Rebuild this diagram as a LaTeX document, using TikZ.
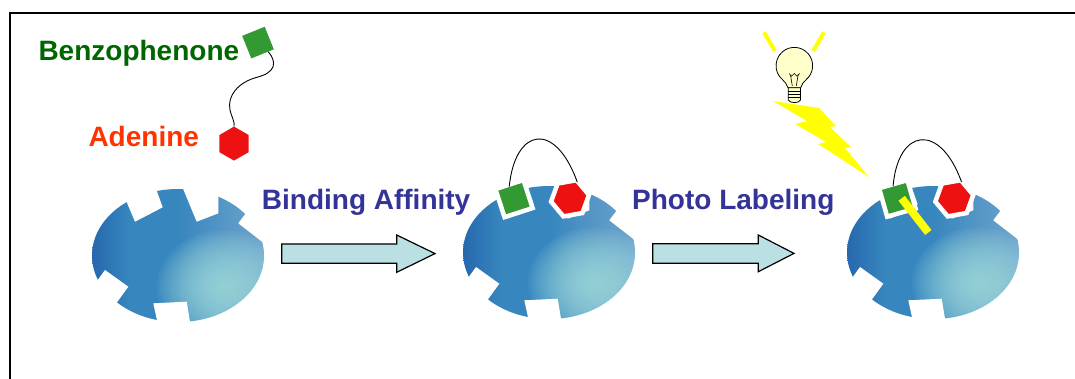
\documentclass[tikz,border=0pt]{standalone}
\usepackage{fontspec}
\setmainfont[Ligatures=CommonOff]{Liberation Sans}
\usetikzlibrary{shapes.geometric,calc}

\definecolor{benzgreen}{HTML}{006600}
\definecolor{adenred}{HTML}{FF3300}
\definecolor{stepblue}{HTML}{333399}
\definecolor{squaregreen}{HTML}{339933}
\definecolor{hexred}{HTML}{EE1111}
\definecolor{arrowfill}{HTML}{BAE0E3}
\definecolor{bulbfill}{HTML}{FFFFCC}
\definecolor{flash}{HTML}{FFFF00}
\definecolor{protnavy}{HTML}{0A338E}
\definecolor{protdeep}{HTML}{1F5BA6}
\definecolor{protmid}{HTML}{3786BE}
\definecolor{protgrey}{HTML}{6FA5CD}
\definecolor{protlight}{HTML}{8CBAD6}
\definecolor{prothl}{HTML}{A8E2E0}

% left-to-right body colour of the protein
\pgfdeclarehorizontalshading{proteinshade}{100bp}{%
  color(0bp)=(protnavy); color(7bp)=(protnavy); color(20bp)=(protdeep);
  color(36bp)=(protmid); color(50bp)=(protmid); color(75bp)=(protgrey);
  color(100bp)=(protlight)}

% protein body: shaded ellipse, then five binding pockets cut out in white
\newcommand\protein[1]{%
  \begin{scope}[shift={#1}]
    \begin{scope}
      \clip (0,0) ellipse [x radius=86, y radius=66.5];
      \shade[shading=proteinshade] (-86,-67) rectangle (86,67);
      \foreach \r in {66,63,...,3}
        \fill[prothl, fill opacity=0.075] (45,31) ellipse [x radius=\r, y radius=0.85*\r];
    \end{scope}
    \fill[white] (-43,-33.8) -- (-15.3,-48.2) -- (-28.9,-85.8) -- (-58.6,-70.6) -- cycle;
    \fill[white] (18.7,-33.8) -- (40.3,-42.2) -- (40.3,-78) -- (-2.7,-85.5) -- cycle;
    \fill[white] (60.3,-32.2) -- (87,-11.5) -- (96,-23.5) -- (69.3,-44.2) -- cycle;
    \fill[white] (-73,14.5) -- (-49.7,31.2) -- (-64,51) -- (-87.3,34.3) -- cycle;
    \fill[white] (-24.7,47.8) -- (8.7,46.2) -- (12.6,70) -- (-19.4,72) -- cycle;
  \end{scope}}

\tikzset{
  sqgroup/.style={rectangle, fill=squaregreen, draw=white, line width=4.5,
    minimum size=29.5, inner sep=0, outer sep=0},
  hexgroup/.style={regular polygon, regular polygon sides=6, shape border rotate=30,
    fill=hexred, draw=white, line width=4.5, minimum size=38.5, inner sep=0, outer sep=0},
  tether/.style={black, line width=0.9, shorten <=-2pt, shorten >=-2pt},
  steptext/.style={anchor=base west, inner sep=0, text=stepblue,
    font=\bfseries\fontsize{28}{30}\selectfont},
  blockarrow/.style={fill=arrowfill, draw=black, line width=1.2, line join=miter},
  ray/.style={flash, line width=4},
}

\begin{document}
\begin{tikzpicture}[x=1pt, y=-1pt]
\useasboundingbox (0,0) rectangle (1075,379);
\clip (0,0) rectangle (1075,379);

% outer frame
\draw[line width=2.3] (10.3,13.2) rectangle (1100,400);

% three proteins
\protein{(178,255.5)}
\protein{(549,252.5)}
\protein{(933,252.5)}

% labelled probe: benzophenone tethered to adenine
\node[anchor=base west, inner sep=0, text=benzgreen,
      font=\bfseries\fontsize{28}{30}\selectfont] (benz) at (38.3,60.5) {Benzophenone};
\node[anchor=base west, inner sep=0, text=adenred,
      font=\bfseries\fontsize{28}{30}\selectfont] (aden) at (88.3,146.7) {Adenine};
\node[sqgroup, draw=none, minimum size=24.3, rotate=22] (sqA) at (258,42.6) {};
\node[hexgroup, draw=none, minimum size=34] (hexA) at (234,143.6) {};
\draw[black, line width=0.9]
  ($(sqA.south)!0.5!(sqA.south east)$) .. controls (277,62) and (276,72) .. (258,77)
  .. controls (238,82) and (227,96) .. (230,110)
  .. controls (232,118) and (235,122) .. (hexA.north);

% step labels and block arrows
\node[steptext] (bind) at (261.7,209.5) {Binding Affinity};
\node[steptext] (photo) at (632,209.5) {Photo Labeling};
\draw[blockarrow] (281.7,244) -- (396.7,244) -- (396.7,235) -- (435,253.6)
  -- (396.7,272.3) -- (396.7,263.3) -- (281.7,263.3) -- cycle;
\draw[blockarrow] (652.7,243.8) -- (758.3,243.8) -- (758.3,235) -- (794,253.4)
  -- (758.3,271.7) -- (758.3,263.3) -- (652.7,263.3) -- cycle;

% probe bound in the pockets
\node[sqgroup, rotate=18] (sqB) at (514,198.6) {};
\node[hexgroup, rotate=-20] (hexB) at (570,198.3) {};
\draw[tether] (sqB.north) .. controls (515,128) and (555,120) .. (hexB.north);

\node[sqgroup, rotate=16] (sqC) at (897.3,198.4) {};
\node[hexgroup, rotate=-20] (hexC) at (954.3,198.3) {};
\draw[tether] (sqC.north) .. controls (898,128) and (940,122) .. (hexC.north);

% covalent cross-link formed by the light
\coordinate (barstart) at (901.7,198.3);
\coordinate (barend) at (928.3,232.5);
\draw[flash, line width=8] (barstart) -- (barend);

% light bulb
\draw[ray] (764,32.3) -- (775,51);
\draw[ray] (824,32.3) -- (813.3,51);
\filldraw[fill=bulbfill, draw=black, line width=0.8]
  (800.7,87.7) .. controls (801.5,84) and (803.5,82.5) .. (806.1,79.7)
  arc[start angle=50, end angle=-230, radius=18.3]
  .. controls (785,82.5) and (787,84) .. (788,87.7) -- cycle;
\filldraw[fill=bulbfill, draw=black, line width=0.8]
  (788.3,87.7) -- (800.5,87.7) -- (800.5,100)
  .. controls (799,103.5) and (789.8,103.5) .. (788.3,100) -- cycle;
\foreach \yy in {91.5,94.5,97.5}
  \draw[line width=0.6] (788.3,\yy) -- (800.5,\yy);
\draw[line width=0.6] (789,73.5) -- (791.6,76.2) -- (794.3,73.5) -- (797,76.2) -- (799.6,73.5);
\draw[line width=0.6] (790.5,75) -- (792.3,86);
\draw[line width=0.6] (798.1,75) -- (796.3,86);

% lightning bolt
\fill[flash] (773,101) -- (819,108) -- (836,126) -- (830,127) -- (851,147)
  -- (845,148) -- (869,177) -- (818,144) -- (826,142) -- (795,124)
  -- (807,121) -- cycle;
\end{tikzpicture}
\end{document}
